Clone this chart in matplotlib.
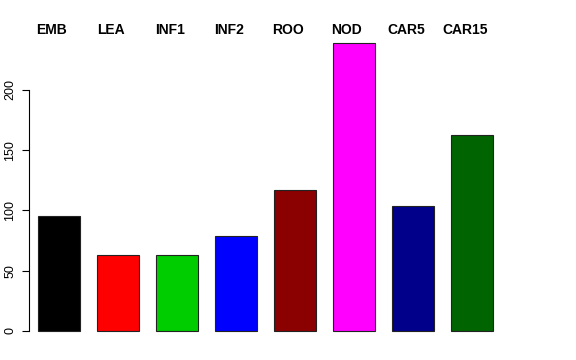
import matplotlib
matplotlib.use("Agg")
import matplotlib.pyplot as plt
import matplotlib.transforms as mtransforms

categories = ["EMB", "LEA", "INF1", "INF2", "ROO", "NOD", "CAR5", "CAR15"]
values = [95.4, 63.0, 63.4, 78.8, 117.0, 239.0, 103.7, 162.5]
colors = ["#000000", "#FF0000", "#00CD00", "#0000FF", "#8B0000", "#FF00FF", "#00008B", "#006400"]
yticks = [0, 50, 100, 150, 200]

plt.rcParams['font.family'] = ['Liberation Sans', 'DejaVu Sans']

fig = plt.figure(figsize=(5.76, 3.6), dpi=100)
ax = fig.add_axes([29/576, (360-343)/360, (560-29)/576, (343-39.4)/360])
x = list(range(len(categories)))
ax.bar(x, values, width=0.71, color=colors, edgecolor="#222222", linewidth=0.8)
ax.set_xlim((29-59)/59, (560-59)/59)
ax.set_ylim(-10, 242)
for s in ["top", "right", "bottom"]:
    ax.spines[s].set_visible(False)
ax.spines["left"].set_bounds(0, 200)
ax.spines["left"].set_linewidth(0.8)
ax.set_xticks([])
ax.set_yticks(yticks)
ax.set_yticklabels([str(t) for t in yticks], rotation=90, va="center", fontsize=9)
ax.tick_params(axis="y", length=5, width=0.8, pad=4)

trans = mtransforms.blended_transform_factory(ax.transData, fig.transFigure)
for i, c in enumerate(categories):
    ax.text(i - 0.12, 1 - 30/360, c, transform=trans, ha="center", va="center",
            fontsize=10, fontweight="bold", clip_on=False)

fig.savefig("out.png", dpi=100)
